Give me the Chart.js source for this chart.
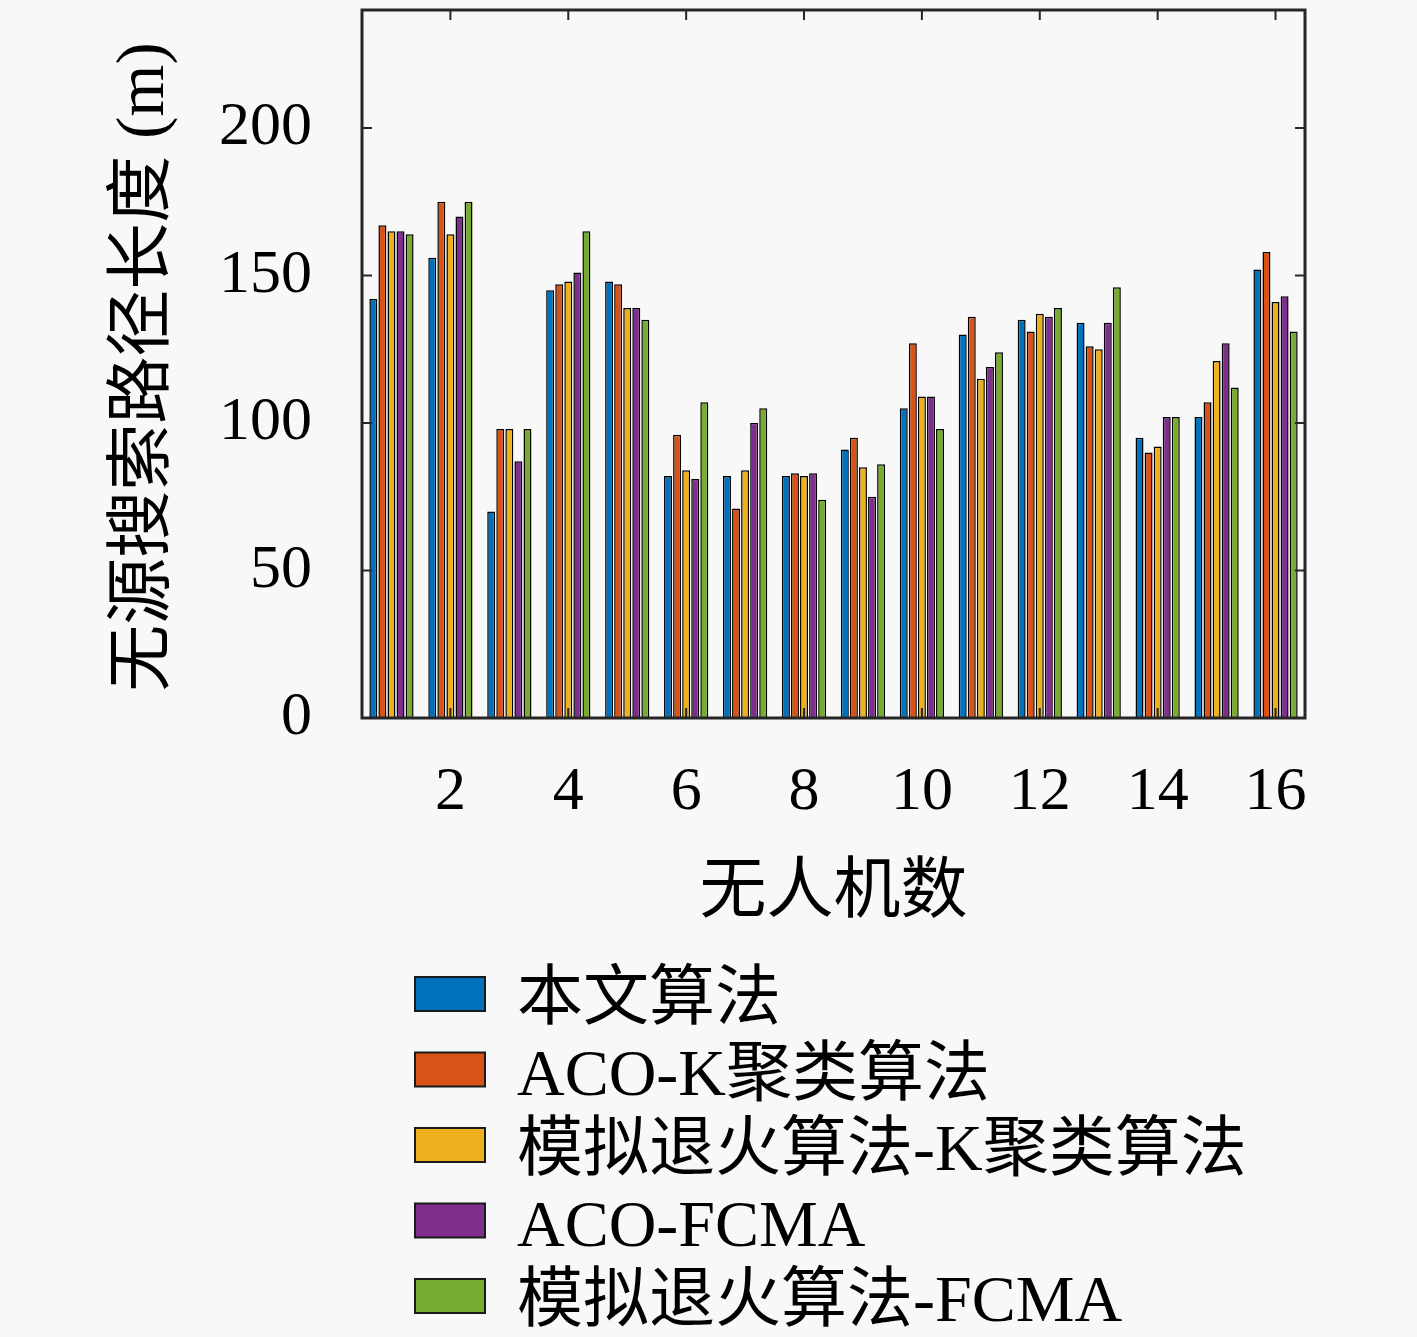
<!DOCTYPE html>
<html>
<head>
<meta charset="utf-8">
<script src="https://cdn.jsdelivr.net/npm/chart.js@4.4.1/dist/chart.umd.min.js"></script>
<style>
  html, body { margin: 0; padding: 0; background: #f8f8f8; }
  canvas { display: block; }
</style>
</head>
<body>
<canvas id="c" width="1417" height="1337"></canvas>
<script>
const categories = ['1','2','3','4','5','6','7','8','9','10','11','12','13','14','15','16'];
const seriesNames = ['本文算法', 'ACO-K聚类算法', '模拟退火算法-K聚类算法', 'ACO-FCMA', '模拟退火算法-FCMA'];
const seriesColors = ['#0072BD', '#D95319', '#EDB120', '#7E2F8E', '#77AC30'];
const ours      = [142,156,70,145,148,82,82,82,91,105,130,135,134,95,102,152];
const acoK      = [167,175,98,147,147,96,71,83,95,127,136,131,126,90,107,158];
const saK       = [165,164,98,148,139,84,84,82,85,109,115,137,125,92,121,141];
const acoFcma   = [165,170,87,151,139,81,100,83,75,109,119,136,134,102,127,143];
const saFcma    = [164,175,98,165,135,107,105,74,86,98,124,139,146,102,112,131];
const seriesValues = [ours, acoK, saK, acoFcma, saFcma];
const yTickValues = [0, 50, 100, 150, 200];
const xTickLabels = ['2','4','6','8','10','12','14','16'];
const xTitle = '无人机数';
const yTitle = '无源搜索路径长度 (m)';

const FONT = '"Liberation Serif", "Noto Sans CJK SC", serif';

const decor = {
  id: 'decor',
  afterDraw(chart) {
    const { ctx, chartArea: a, scales: { x, y } } = chart;
    ctx.save();
    ctx.strokeStyle = '#262626';
    ctx.lineWidth = 2;
    const tl = 10;
    yTickValues.forEach(v => {
      const py = y.getPixelForValue(v);
      ctx.beginPath();
      ctx.moveTo(a.left, py); ctx.lineTo(a.left + tl, py);
      ctx.moveTo(a.right, py); ctx.lineTo(a.right - tl, py);
      ctx.stroke();
    });
    xTickLabels.forEach(lbl => {
      const idx = categories.indexOf(lbl);
      const px = x.getPixelForValue(idx);
      ctx.beginPath();
      ctx.moveTo(px, a.bottom); ctx.lineTo(px, a.bottom - tl);
      ctx.moveTo(px, a.top); ctx.lineTo(px, a.top + tl);
      ctx.stroke();
    });
    ctx.lineWidth = 3;
    ctx.strokeRect(a.left, a.top, a.right - a.left, a.bottom - a.top);

    ctx.fillStyle = '#000';
    ctx.textAlign = 'center';
    ctx.textBaseline = 'middle';
    ctx.font = '67px ' + FONT;
    ctx.fillText(xTitle, (a.left + a.right) / 2, 894);
    ctx.save();
    ctx.translate(145, (a.top + a.bottom) / 2 + 3);
    ctx.rotate(-Math.PI / 2);
    ctx.fillText(yTitle, 0, 0);
    ctx.restore();

    ctx.textAlign = 'left';
    ctx.font = '66px ' + FONT;
    chart.data.datasets.forEach((ds, i) => {
      const cy = 994 + i * 75.5;
      ctx.fillStyle = ds.backgroundColor;
      ctx.fillRect(415, cy - 17, 70, 34);
      ctx.strokeStyle = '#1a1a1a';
      ctx.lineWidth = 2;
      ctx.strokeRect(415, cy - 17, 70, 34);
      ctx.fillStyle = '#000';
      ctx.fillText(ds.label, 517, cy + 8);
    });
    ctx.restore();
  }
};

new Chart(document.getElementById('c'), {
  type: 'bar',
  data: {
    labels: categories,
    datasets: seriesValues.map((vals, i) => ({
      label: seriesNames[i],
      data: vals,
      backgroundColor: seriesColors[i],
      borderColor: '#000',
      borderWidth: 1.5,
      categoryPercentage: 0.769,
      barPercentage: 0.88
    }))
  },
  options: {
    responsive: false,
    devicePixelRatio: 1,
    animation: false,
    layout: { padding: { left: 0, top: 10, right: 112, bottom: 0 } },
    plugins: { legend: { display: false }, tooltip: { enabled: false } },
    scales: {
      x: {
        grid: { display: false, drawTicks: false },
        border: { display: false },
        ticks: {
          autoSkip: false,
          maxRotation: 0,
          padding: 44,
          color: '#000',
          font: { family: FONT, size: 62, lineHeight: 1 },
          callback: function(val) {
            const l = categories[val];
            return xTickLabels.includes(l) ? l : '';
          }
        },
        afterFit(scale) { scale.height = 1337 - 718; scale.paddingLeft = 0; scale.paddingRight = 0; }
      },
      y: {
        min: 0, max: 240,
        grid: { display: false, drawTicks: false },
        border: { display: false },
        ticks: {
          stepSize: 50,
          includeBounds: false,
          padding: 50,
          color: '#000',
          font: { family: FONT, size: 62, lineHeight: 1 }
        },
        afterFit(scale) { scale.width = 362; scale.paddingTop = 0; scale.paddingBottom = 0; }
      }
    }
  },
  plugins: [decor]
});
</script>
</body>
</html>
